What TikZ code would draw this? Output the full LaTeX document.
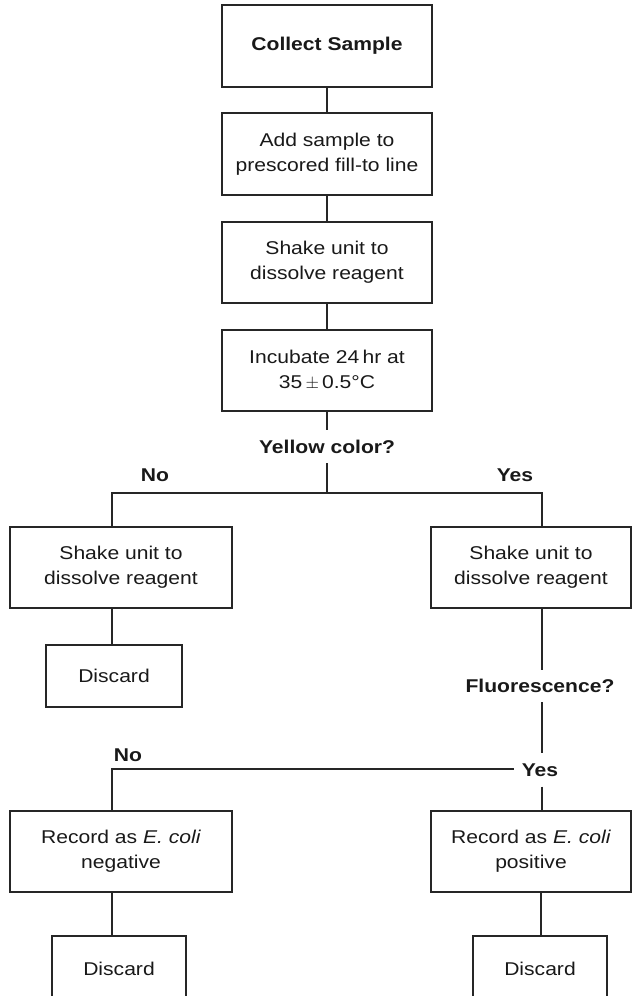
\documentclass[tikz,border=0pt]{standalone}
\usepackage{fontspec}
\setmainfont[FakeStretch=1.14]{Liberation Sans}
\begin{document}
\begin{tikzpicture}[x=1pt,y=-1pt,
  box/.style={draw=black!85,line width=1.3pt,rectangle,align=center,inner sep=0pt,
     font=\fontsize{18.5}{25}\selectfont,text=black!90},
  lbl/.style={inner xsep=8pt,inner ysep=0pt,font=\fontsize{18.5}{25}\selectfont\bfseries,text=black!90},
  conn/.style={line width=2pt,draw=black!85}]
\useasboundingbox (0,0) rectangle (632,996);
\clip (0,0) rectangle (632,996);
% main column
\node[box,minimum width=210,minimum height=82] (collect) at (327,46) {\bfseries Collect Sample};
\node[box,minimum width=210,minimum height=82] (add) at (327,154) {Add sample to\\prescored fill-to line};
\node[box,minimum width=210,minimum height=81] (shake) at (327,262.5) {Shake unit to\\dissolve reagent};
\node[box,minimum width=210,minimum height=81] (incub) at (327,370.5) {Incubate 24\,hr at\\35\,$\pm$\,0.5°C};
\node[lbl,minimum height=33] (yellow) at (327,446.5) {Yellow color?};
\coordinate (jn) at (327,493);
% branches
\node[box,minimum width=222,minimum height=81] (shakeL) at (121,567.5) {Shake unit to\\dissolve reagent};
\node[box,minimum width=200,minimum height=81] (shakeR) at (531,567.5) {Shake unit to\\dissolve reagent};
\node[lbl] (no1) at (155,475) {No};
\node[lbl] (yes1) at (515,475) {Yes};
\node[box,minimum width=136,minimum height=62] (disc1) at (114,676) {Discard};
\node[lbl,minimum height=32] (fluo) at (540,686) {Fluorescence?};
\node[lbl,minimum height=33,inner xsep=8pt] (yes2) at (540,770) {Yes};
\node[lbl] (no2) at (128,755) {No};
\node[box,minimum width=222,minimum height=81] (recneg) at (121,851.5) {Record as \textit{E. coli}\\negative};
\node[box,minimum width=200,minimum height=81] (recpos) at (531,851.5) {Record as \textit{E. coli}\\positive};
\node[box,minimum width=134,minimum height=66] (disc2) at (119,969) {Discard};
\node[box,minimum width=134,minimum height=66] (disc3) at (540,969) {Discard};
% connectors
\draw[conn] (collect) -- (add);
\draw[conn] (add) -- (shake);
\draw[conn] (shake) -- (incub);
\draw[conn] (incub) -- (yellow);
\draw[conn] (yellow) -- (jn);
\draw[conn] ([xshift=-9pt]shakeL.north) |- (jn) -| ([xshift=11pt]shakeR.north);
\draw[conn] ([xshift=-9pt]shakeL.south) -- ([xshift=-9pt]shakeL.south |- disc1.north);
\draw[conn] ([xshift=11pt]shakeR.south) -- ([xshift=11pt]shakeR.south |- fluo.north);
\draw[conn] ([xshift=11pt]shakeR.south |- fluo.south) -- ([xshift=11pt]shakeR.south |- yes2.north);
\draw[conn] ([xshift=11pt]recpos.north |- yes2.south) -- ([xshift=11pt]recpos.north);
\draw[conn] ([yshift=1.5pt]yes2.west) -| ([xshift=-9pt]recneg.north);
\draw[conn] ([xshift=-9pt]recneg.south) -- ([xshift=-9pt]recneg.south |- disc2.north);
\draw[conn] ([xshift=10pt]recpos.south) -- ([xshift=10pt]recpos.south |- disc3.north);
\end{tikzpicture}
\end{document}
